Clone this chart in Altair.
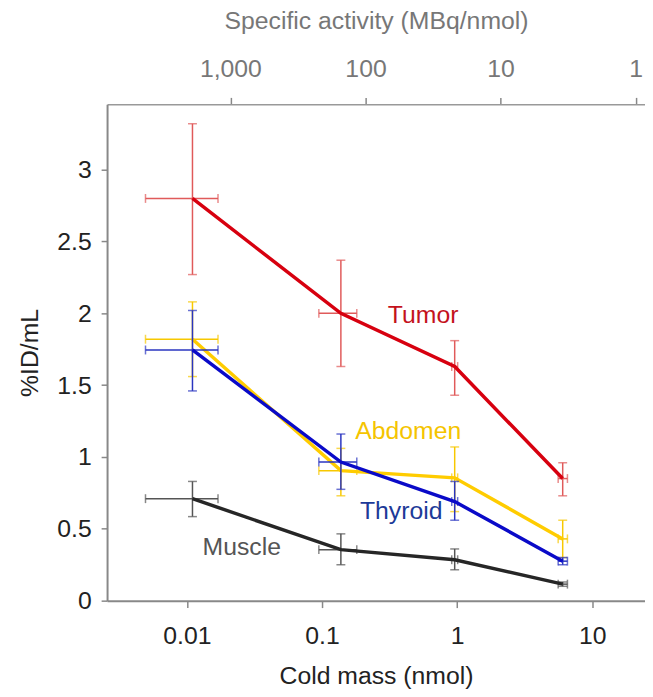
import altair as alt
import pandas as pd

# ---------------- data ----------------
mass = [0.011, 0.138, 0.96, 6.05]
mass_lo = [0.00494, 0.0948, 0.913, 5.6]
mass_hi = [0.0170, 0.181, 1.01, 6.56]

series = ["Tumor", "Abdomen", "Thyroid", "Muscle"]
tumor = [2.80, 2.00, 1.63, 0.85]
tumor_lo = [2.27, 1.63, 1.43, 0.73]
tumor_hi = [3.32, 2.37, 1.81, 0.96]
abdomen = [1.82, 0.905, 0.855, 0.43]
abdomen_lo = [1.56, 0.73, 0.62, 0.30]
abdomen_hi = [2.08, 1.06, 1.07, 0.56]
thyroid = [1.745, 0.965, 0.69, 0.275]
thyroid_lo = [1.46, 0.775, 0.56, 0.25]
thyroid_hi = [2.02, 1.16, 0.83, 0.30]
muscle = [0.71, 0.355, 0.285, 0.115]
muscle_lo = [0.585, 0.25, 0.215, 0.10]
muscle_hi = [0.83, 0.465, 0.36, 0.13]

label_x = [0.561, 0.435, 0.386, 0.0255]
label_y = [1.986, 1.179, 0.621, 0.372]

x_ticks = [0.01, 0.1, 1, 10]
y_ticks = [0, 0.5, 1, 1.5, 2, 2.5, 3]
activity_ticks = [1, 10, 100, 1000]
mass_domain = [0.002566, 24.6]
activity_domain = [0.8537, 8184]
y_domain = [0, 3.455]

# ---------------- styles ----------------
FONT = "Liberation Sans"
FS = 25
line_colors = {"Tumor": "#d7000f", "Abdomen": "#ffcc00", "Thyroid": "#0a0ac8", "Muscle": "#262626"}
err_colors = {"Tumor": "#e05a5a", "Abdomen": "#f7c800", "Thyroid": "#2a35c0", "Muscle": "#555555"}
text_colors = {"Tumor": "#c4121c", "Abdomen": "#f5c400", "Thyroid": "#1d3a98", "Muscle": "#555555"}

values = {"Tumor": (tumor, tumor_lo, tumor_hi),
          "Abdomen": (abdomen, abdomen_lo, abdomen_hi),
          "Thyroid": (thyroid, thyroid_lo, thyroid_hi),
          "Muscle": (muscle, muscle_lo, muscle_hi)}

xscale = alt.Scale(type="log", domain=mass_domain, nice=False)
yscale = alt.Scale(domain=y_domain, nice=False, zero=False)

X_AX = alt.Axis(values=x_ticks, format="~g", grid=False, title="Cold mass (nmol)",
                tickSize=7, tickColor="#888888", tickWidth=1.5, domainColor="#888888", domainWidth=2,
                labelFontSize=FS, labelColor="#222222", labelPadding=16, labelFont=FONT,
                titleFontSize=FS, titleColor="#222222", titleFontWeight="normal",
                titlePadding=16, titleFont=FONT)
Y_AX = alt.Axis(values=y_ticks, format="~g", grid=False, title="%ID/mL",
                tickSize=6, tickColor="#888888", tickWidth=1.5, domainColor="#888888", domainWidth=2,
                labelFontSize=FS, labelColor="#222222", labelPadding=10, labelFont=FONT,
                titleFontSize=FS, titleColor="#222222", titleFontWeight="normal",
                titlePadding=14, titleFont=FONT)

def X(field):
    return alt.X(field, type="quantitative", scale=xscale, axis=X_AX)

def Y(field):
    return alt.Y(field, type="quantitative", scale=yscale, axis=Y_AX)

layers = []
for s in ["Muscle", "Tumor", "Abdomen", "Thyroid"]:
    v, lo, hi = values[s]
    df = pd.DataFrame({"mass": mass, "mlo": mass_lo, "mhi": mass_hi,
                       "val": v, "lo": lo, "hi": hi})
    base = alt.Chart(df)
    layers.append(base.mark_errorbar(ticks=True, color=err_colors[s], thickness=1.5, size=9)
                  .encode(x=X("mass"), y=Y("lo"), y2="hi"))
    layers.append(base.mark_errorbar(ticks=True, color=err_colors[s], thickness=1.5, size=9)
                  .encode(x=X("mlo"), x2="mhi", y=Y("val")))
    layers.append(base.mark_line(color=line_colors[s], strokeWidth=3.5)
                  .encode(x=X("mass"), y=Y("val")))

lab_df = pd.DataFrame({"name": series, "lx": label_x, "ly": label_y})
for s in series:
    layers.append(alt.Chart(lab_df[lab_df["name"] == s]).mark_text(
        font=FONT, fontSize=FS, color=text_colors[s], align="center", baseline="middle")
        .encode(x=X("lx"), y=Y("ly"), text="name:N"))

main = alt.layer(*layers)

top_df = pd.DataFrame({"sa": activity_ticks})
top = alt.Chart(top_df).mark_point(opacity=0).encode(
    x=alt.X("sa:Q", scale=alt.Scale(type="log", domain=activity_domain, reverse=True, nice=False),
            axis=alt.Axis(orient="top", values=activity_ticks, format=",", grid=False,
                          title="Specific activity (MBq/nmol)",
                          tickSize=7, tickColor="#888888", tickWidth=1.5,
                          domainColor="#999999", domainWidth=1.5,
                          labelFontSize=FS, labelColor="#777777", labelPadding=16, labelFont=FONT,
                          titleFontSize=FS, titleColor="#777777", titleFontWeight="normal",
                          titlePadding=24, titleFont=FONT)),
    y=alt.value(0))

chart = alt.layer(main, top).resolve_scale(x="independent").properties(
    width=543, height=501,
    autosize=alt.AutoSizeParams(type="none"),
    padding={"left": 100, "top": 94, "right": 0, "bottom": 94},
).configure_view(stroke=None)

chart.save("out.html", embed_options={"renderer": "svg", "actions": False})
